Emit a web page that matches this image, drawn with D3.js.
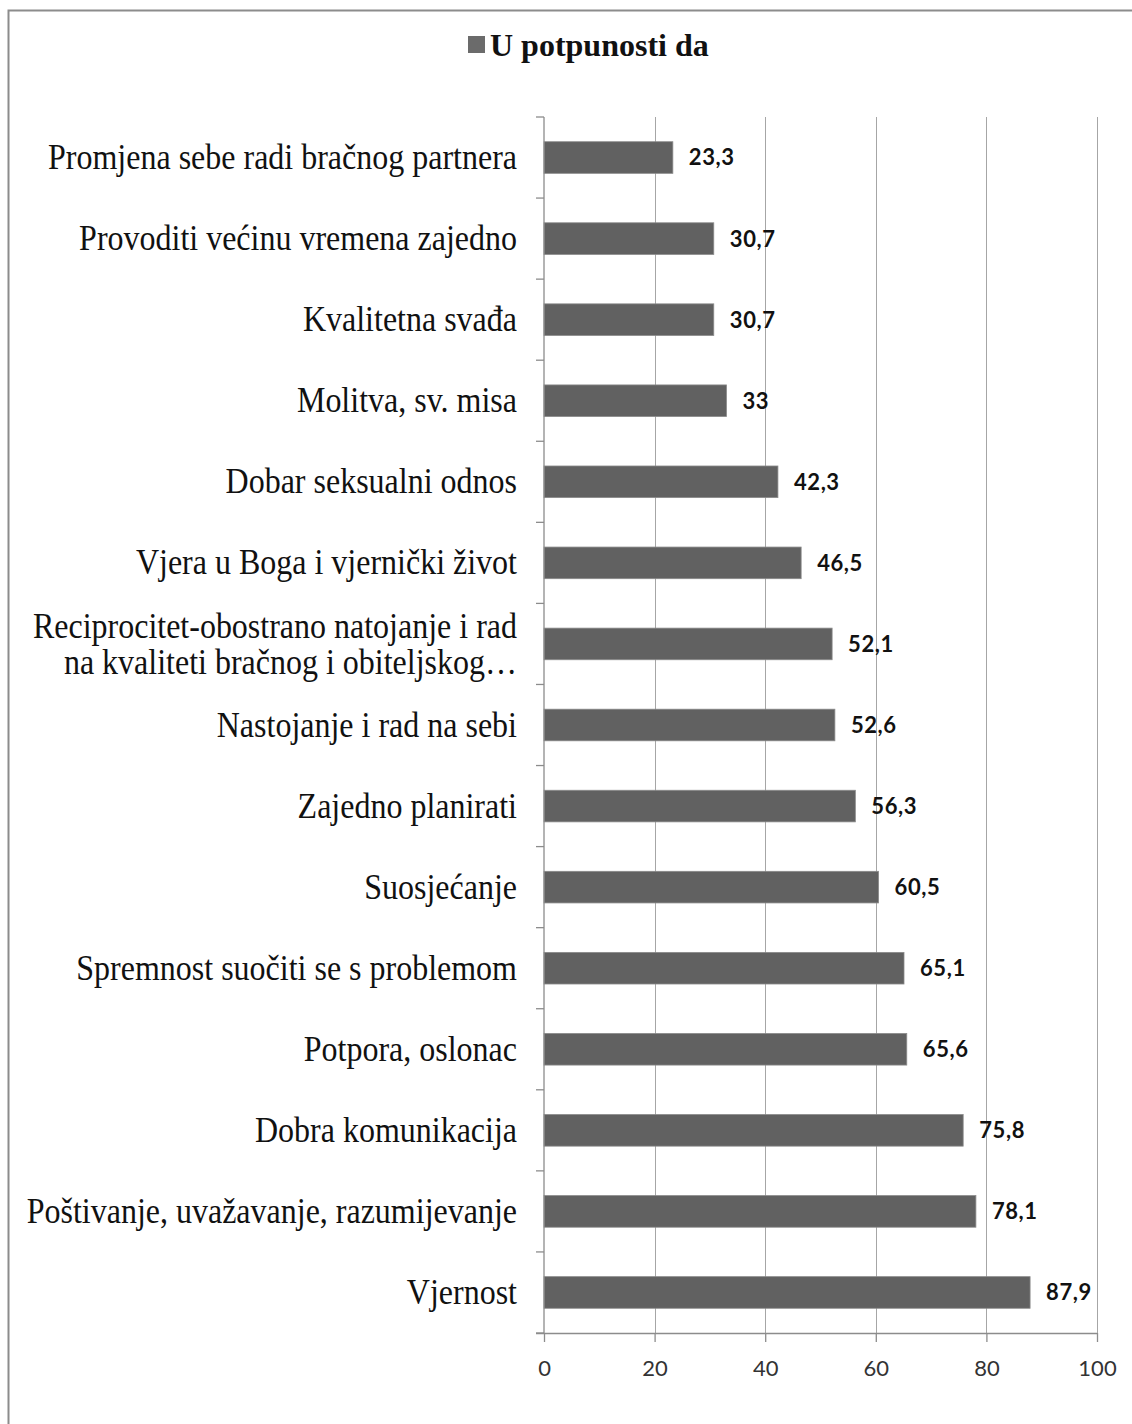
<!DOCTYPE html>
<html><head><meta charset="utf-8">
<script src="https://cdn.jsdelivr.net/npm/d3@7"></script>
<style>body{margin:0;background:#fff}svg{display:block}</style>
</head><body>
<script>
const categories = [
  "Promjena sebe radi bračnog partnera",
  "Provoditi većinu vremena zajedno",
  "Kvalitetna svađa",
  "Molitva, sv. misa",
  "Dobar seksualni odnos",
  "Vjera u Boga i vjernički život",
  "Reciprocitet-obostrano natojanje i rad|na kvaliteti bračnog i obiteljskog…",
  "Nastojanje i rad na sebi",
  "Zajedno planirati",
  "Suosjećanje",
  "Spremnost suočiti se s problemom",
  "Potpora, oslonac",
  "Dobra komunikacija",
  "Poštivanje, uvažavanje, razumijevanje",
  "Vjernost"
];
const values = [23.3, 30.7, 30.7, 33, 42.3, 46.5, 52.1, 52.6, 56.3, 60.5, 65.1, 65.6, 75.8, 78.1, 87.9];
const valueLabels = ["23,3","30,7","30,7","33","42,3","46,5","52,1","52,6","56,3","60,5","65,1","65,6","75,8","78,1","87,9"];
const xTicks = [0, 20, 40, 60, 80, 100];
const seriesName = "U potpunosti da";

const W = 1132, H = 1424;
const svg = d3.select("body").append("svg").attr("width", W).attr("height", H);

// outer border
svg.append("rect").attr("x", 8.5).attr("y", 10.5).attr("width", W + 10).attr("height", H + 10)
  .attr("fill", "none").attr("stroke", "#8c8c8c").attr("stroke-width", 2);

const pLeft = 544, pRight = 1097, pTop = 117, pBottom = 1333;
const x = d3.scaleLinear().domain([0, 100]).range([pLeft, pRight]);
const y = d3.scaleBand().domain(categories).range([pTop, pBottom]).paddingInner(0.61).paddingOuter(0.305);

// gridlines
svg.append("g").selectAll("line").data(xTicks.slice(1)).join("line")
  .attr("x1", d => Math.round(x(d)) + 0.5).attr("x2", d => Math.round(x(d)) + 0.5)
  .attr("y1", pTop).attr("y2", pBottom)
  .attr("stroke", "#a6a6a6").attr("stroke-width", 1);

// bars
svg.append("g").selectAll("rect").data(values).join("rect")
  .attr("x", x(0)).attr("y", (d, i) => y(categories[i]))
  .attr("width", d => x(d) - x(0)).attr("height", y.bandwidth())
  .attr("fill", "#616161").attr("stroke", "#8a8a8a").attr("stroke-width", 0.8);

// y axis line and ticks at band boundaries
const yg = svg.append("g").attr("stroke", "#8c8c8c").attr("stroke-width", 1.3);
yg.append("line").attr("x1", pLeft).attr("x2", pLeft).attr("y1", pTop).attr("y2", pBottom);
const step = (pBottom - pTop) / categories.length;
d3.range(categories.length + 1).forEach(i => {
  yg.append("line").attr("x1", pLeft - 8).attr("x2", pLeft).attr("y1", pTop + i * step).attr("y2", pTop + i * step);
});

// x axis
const xAxis = d3.axisBottom(x).tickValues(xTicks).tickSize(9).tickPadding(14).tickFormat(d3.format("d"));
const xg = svg.append("g").attr("transform", `translate(0,${pBottom})`).call(xAxis);
xg.select(".domain").attr("stroke", "#8c8c8c").attr("stroke-width", 1.3).attr("d", `M${pLeft - 8},0.5H${pRight}`);
xg.selectAll(".tick line").attr("stroke", "#8c8c8c").attr("stroke-width", 1.3);
xg.selectAll(".tick text").attr("font-family", "Lato, 'Open Sans', sans-serif").attr("font-size", 22)
  .attr("fill", "#333").attr("dy", "0.9em");

// category labels (slightly stretched vertically, as in the reference)
const lab = svg.append("g").attr("font-family", "'Liberation Serif', 'Times New Roman', serif")
  .attr("font-size", 32).attr("fill", "#111").attr("text-anchor", "end");
categories.forEach((c, i) => {
  const cy = y(c) + y.bandwidth() / 2;
  const lines = c.split("|");
  const lh = 36 / 1.1;
  const t = lab.append("text").attr("transform", `translate(517,${cy}) scale(1,1.1)`);
  lines.forEach((ln, j) => {
    t.append("tspan").attr("x", 0).attr("y", (j - (lines.length - 1) / 2) * lh).attr("dy", "0.33em").text(ln);
  });
});

// value labels
svg.append("g").selectAll("text").data(values).join("text")
  .attr("x", d => x(d) + 16).attr("y", (d, i) => y(categories[i]) + y.bandwidth() / 2).attr("dy", "0.36em")
  .attr("font-family", "Lato, 'Open Sans', sans-serif").attr("font-weight", "bold").attr("font-size", 22)
  .attr("letter-spacing", 0.6).attr("fill", "#111").text((d, i) => valueLabels[i]);

// legend / title
const lg = svg.append("g");
lg.append("rect").attr("x", 468).attr("y", 36).attr("width", 17).attr("height", 17).attr("fill", "#6b6b6b");
lg.append("text").attr("x", 490).attr("y", 44).attr("dy", "0.36em")
  .attr("font-family", "'Liberation Serif', 'Times New Roman', serif").attr("font-weight", "bold")
  .attr("font-size", 32).attr("fill", "#111").text(seriesName);
</script>
</body></html>
